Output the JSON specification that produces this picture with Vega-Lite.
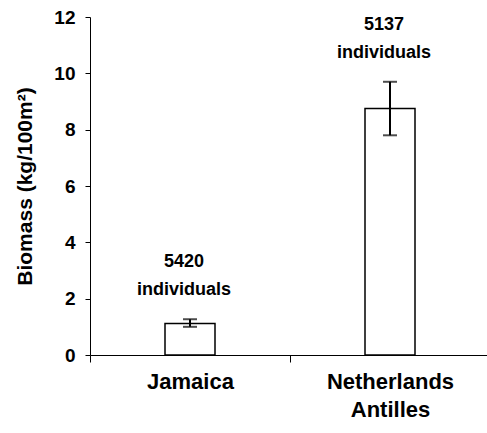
{
  "$schema": "https://vega.github.io/schema/vega-lite/v6.json",
  "width": 400,
  "height": 338,
  "autosize": "none",
  "padding": {"left": 90, "top": 17, "right": 0, "bottom": 78},
  "background": "white",
  "config": {"view": {"stroke": null}, "font": "Liberation Sans"},
  "data": {"values": [
    {"site": "Jamaica", "biomass": 1.12, "low": 1.0, "high": 1.27, "label": "5420\nindividuals"},
    {"site": "Netherlands Antilles", "biomass": 8.75, "low": 7.8, "high": 9.7, "label": "5137\nindividuals"}
  ]},
  "encoding": {
    "x": {
      "field": "site", "type": "nominal", "sort": null,
      "scale": {"paddingInner": 0, "paddingOuter": 0},
      "axis": {
        "title": null, "labelAngle": 0, "domainColor": "black", "tickColor": "black",
        "tickSize": 7, "tickBand": "extent", "labelPadding": 9,
        "labelFont": "Liberation Sans", "labelFontWeight": "bold", "labelFontSize": 22,
        "labelColor": "black", "labelLineHeight": 28, "labelBaseline": "top",
        "labelExpr": "datum.value == 'Netherlands Antilles' ? ['Netherlands','Antilles'] : datum.value",
        "grid": false
      }
    }
  },
  "layer": [
    {
      "mark": {"type": "bar", "size": 50, "fill": "white", "stroke": "black", "strokeWidth": 1.5},
      "encoding": {
        "y": {
          "field": "biomass", "type": "quantitative", "title": "Biomass (kg/100m²)",
          "scale": {"domain": [0, 12], "nice": false, "zero": true},
          "axis": {
            "values": [0, 2, 4, 6, 8, 10, 12], "grid": false, "domainColor": "black",
            "tickColor": "black", "tickSize": 5, "labelPadding": 10,
            "labelFont": "Liberation Sans", "labelFontWeight": "bold", "labelFontSize": 19,
            "labelColor": "black", "titleFont": "Liberation Sans", "titleFontWeight": "bold",
            "titleFontSize": 21, "titleColor": "black", "titlePadding": 18
          }
        }
      }
    },
    {
      "mark": {"type": "rule", "color": "black", "strokeWidth": 2},
      "encoding": {
        "y": {"field": "low", "type": "quantitative", "title": "Biomass (kg/100m²)"},
        "y2": {"field": "high"}
      }
    },
    {
      "mark": {"type": "tick", "color": "black", "size": 14, "thickness": 2},
      "encoding": {
        "y": {"field": "low", "type": "quantitative", "title": "Biomass (kg/100m²)"}
      }
    },
    {
      "mark": {"type": "tick", "color": "black", "size": 14, "thickness": 2},
      "encoding": {
        "y": {"field": "high", "type": "quantitative", "title": "Biomass (kg/100m²)"}
      }
    },
    {
      "mark": {
        "type": "text", "lineBreak": "\n", "baseline": "bottom", "dy": -48, "dx": -6,
        "font": "Liberation Sans", "fontSize": 18, "fontWeight": "bold", "lineHeight": 28, "color": "black"
      },
      "encoding": {
        "y": {"field": "high", "type": "quantitative", "title": "Biomass (kg/100m²)"},
        "text": {"field": "label"}
      }
    }
  ]
}
